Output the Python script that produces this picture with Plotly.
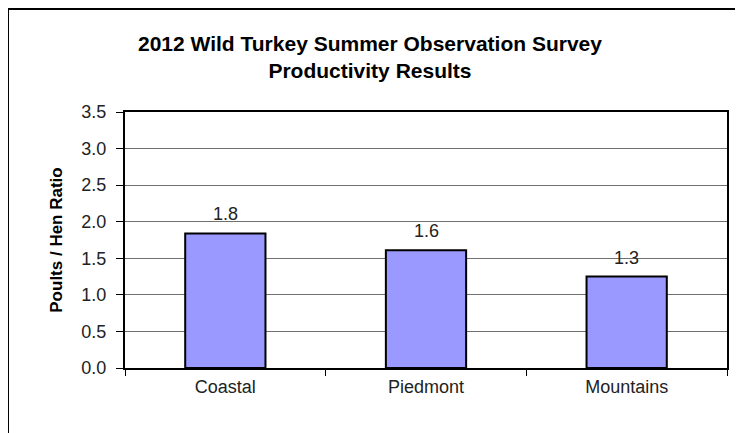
import plotly.graph_objects as go

categories = ["Coastal", "Piedmont", "Mountains"]
values = [1.84, 1.61, 1.25]
value_labels = ["1.8", "1.6", "1.3"]
y_ticks = [0.0, 0.5, 1.0, 1.5, 2.0, 2.5, 3.0, 3.5]
y_tick_text = ["0.0", "0.5", "1.0", "1.5", "2.0", "2.5", "3.0", "3.5"]
title_lines = ["2012 Wild Turkey Summer Observation Survey", "Productivity Results"]

FONT = "Liberation Sans, Arial, sans-serif"
TXT = "#222222"

# page offset of 8px (body margin) compensated by sizing
W, H = 735, 425
L, R, T, B = 117, 16, 104, 65
PW = W - L - R
PH = H - T - B


def px_x(x):  # page pixel -> paper x
    return (x - 8 - L) / PW


def px_y(y):  # page pixel -> paper y
    return (8 + T + PH - y) / PH


fig = go.Figure()
fig.add_trace(go.Bar(
    x=categories, y=values,
    width=0.4,
    marker=dict(color="#9999FF", line=dict(color="black", width=2)),
    hoverinfo="skip",
))

for c, v, lab in zip(categories, values, value_labels):
    fig.add_annotation(x=c, y=v, text=lab, showarrow=False,
                       xanchor="center", yanchor="bottom", yshift=7,
                       font=dict(family=FONT, size=18, color=TXT))

fig.add_annotation(xref="paper", yref="paper", x=px_x(370), y=px_y(57),
                   text="<b>" + "<br>".join(title_lines) + "</b>", showarrow=False,
                   xanchor="center", yanchor="middle", align="center",
                   font=dict(family=FONT, size=21, color="black"))

fig.update_layout(
    width=W, height=H,
    margin=dict(l=L, r=R, t=T, b=B, pad=0),
    paper_bgcolor="white", plot_bgcolor="white",
    showlegend=False,
    font=dict(family=FONT, size=18, color=TXT),
    xaxis=dict(
        type="category",
        showgrid=False,
        showline=True, linecolor="black", linewidth=2, mirror=True,
        ticks="outside", tickson="boundaries", ticklen=6, tickcolor="black", tickwidth=1,
        tickfont=dict(family=FONT, size=18, color=TXT),
        ticklabelstandoff=1,
    ),
    yaxis=dict(
        range=[0, 3.5],
        tickvals=y_ticks, ticktext=y_tick_text,
        showgrid=True, gridcolor="#707070", gridwidth=1,
        showline=True, linecolor="black", linewidth=2, mirror=True,
        ticks="outside", ticklen=7, tickcolor="black", tickwidth=1,
        tickfont=dict(family=FONT, size=18, color=TXT),
        ticklabelstandoff=6,
        title=dict(text="<b>Poults / Hen Ratio</b>", font=dict(family=FONT, size=17, color="black"), standoff=14),
        zeroline=False,
    ),
)

x0, x1 = px_x(8), px_x(900)
y0, y1 = px_y(600), px_y(9)
fig.add_shape(type="path", xref="paper", yref="paper",
              path=f"M {x0},{y0} L {x0},{y1} L {x1},{y1}",
              line=dict(color="black", width=2), layer="below")

fig.write_html("out.html")
